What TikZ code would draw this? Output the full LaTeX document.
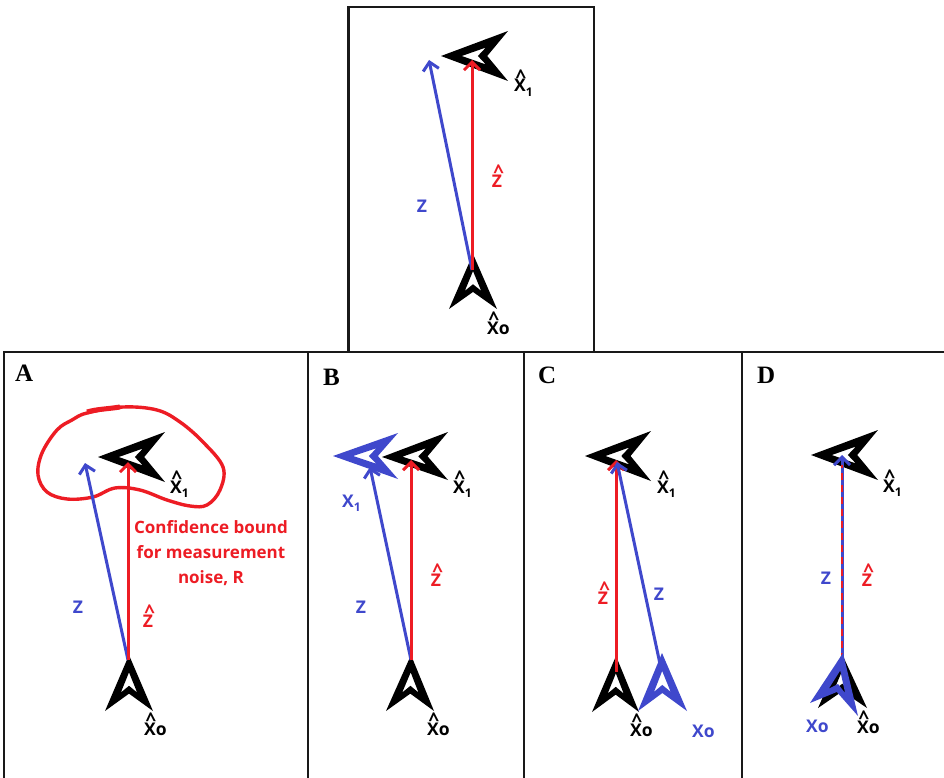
\documentclass[tikz,border=0pt]{standalone}
\usepackage{fontspec}
\setmainfont{Open Sans}
\newfontfamily\panelfont{Liberation Serif}
\usetikzlibrary{calc,arrows.meta}
\definecolor{rd}{RGB}{237,28,36}
\definecolor{bl}{RGB}{63,72,204}
\tikzset{
  panel/.style={line width=2.1pt,black!90},
  conn/.style={line width=3pt,-{Straight Barb[length=8pt,width=16pt,line width=3pt]}},
  lab/.style={font=\fontsize{17.5}{19}\selectfont\bfseries,inner sep=0pt,anchor=base},
  labw/.style={lab,anchor=base west},
  letter/.style={font=\fontsize{25}{26}\panelfont\bfseries,inner sep=0pt,anchor=base west},
  note/.style={font=\fontsize{17}{25}\selectfont\bfseries,text=rd,align=center,inner sep=0pt}
}
\newcommand\hatl[1]{\rlap{\raisebox{.5em}{\hspace{.1em}\fontsize{19}{19}\selectfont\bfseries\textasciicircum}}#1}
\newcommand\xone{\hatl{X}\raisebox{-.25em}{\fontsize{12}{13}\selectfont 1}}
\newcommand\blxone{X\raisebox{-.25em}{\fontsize{12}{13}\selectfont 1}}
\newcommand\xo{\hatl{X}o}
\newcommand\chev[5]{%
  \coordinate (#1-t) at (#3);
  \coordinate (#1-a) at (#4);
  \coordinate (#1-b) at (#5);
  \coordinate (#1-m) at ($(#1-a)!.5!(#1-b)$);
  \fill[#2,even odd rule] (#1-t) -- (#1-a) -- ($(#1-t)!.69!(#1-m)$) -- (#1-b) -- cycle
    ($(#1-t)!.31!(#1-m)$)
    -- ($(#1-t)!.67!(#1-m) + .34*(#1-a) - .34*(#1-m)$)
    -- ($(#1-t)!.55!(#1-m)$)
    -- ($(#1-t)!.67!(#1-m) + .34*(#1-b) - .34*(#1-m)$) -- cycle;
}
\begin{document}
\begin{tikzpicture}[x=1pt,y=-1pt]
\useasboundingbox (0,0) rectangle (944,778);
\fill[white] (0,0) rectangle (944,778);
% panels
\draw[panel] (348.5,7) rectangle (594,352);
\draw[panel] (4,778) -- (4,352) -- (944,352);
\draw[panel] (308,352) -- (308,778);
\draw[panel] (524,352) -- (524,778);
\draw[panel] (742,352) -- (742,778);
\node[letter] (la) at (15,381) {A};
\node[letter] (lb) at (323,385) {B};
\node[letter] (lc) at (538,383) {C};
\node[letter] (ld) at (757,383) {D};

% top panel
\chev{t1}{black}{441,56}{508,31}{508,81}
\chev{t0}{black}{473,254}{449,309}{497,309}
\coordinate (tz) at (429,60);
\coordinate (tzh) at (472,60);
\coordinate (ts) at (472,270);
\draw[conn,bl] (ts) -- (tz);
\draw[conn,rd] (ts) -- (tzh);
\node[labw] (tx1) at (514,92) {\xone};
\node[labw] (tx0) at (487,334) {\xo};
\node[lab,text=bl] (tzl) at (422,212) {Z};
\node[lab,text=rd] (tzhl) at (497,187) {\hatl{Z}};

% panel A
\draw[rd,line width=3.4pt,line join=round] plot[smooth cycle,tension=.6] coordinates {(87,413) (123,407) (157,410) (180,422) (203,442) (223,467) (220,490) (207,505) (190,506) (167,500) (140,490) (115,488) (93,497) (67,499) (47,492) (38,475) (42,453) (57,430) (72,420)};
\draw[rd,line width=5pt] (87,412) .. controls (97,409) and (108,409) .. (120,407);
\chev{a1}{black}{98,457}{165,432}{165,482}
\chev{a0}{black}{129,655}{105,711}{153,711}
\coordinate (az) at (85,463);
\coordinate (azh) at (128,462);
\coordinate (as) at (128,660);
\draw[conn,bl] (as) -- (az);
\draw[conn,rd] (as) -- (azh);
\node[labw] (ax1) at (170,493) {\xone};
\node[labw] (ax0) at (144,735) {\xo};
\node[lab,text=bl] (azl) at (78,613) {Z};
\node[lab,text=rd] (azhl) at (148,627) {\hatl{Z}};
\node[note] (anote) at (211,553) {Confidence bound\\for measurement\\noise, R};

% panel B
\chev{b1b}{bl}{333,456}{398,433}{398,479}
\chev{b1}{black}{382,457}{448,432}{448,480}
\chev{b0}{black}{411,655}{386,711}{434,711}
\coordinate (bz) at (370,467);
\coordinate (bzh) at (411,460);
\coordinate (bs) at (411,660);
\draw[conn,bl] (bs) -- (bz);
\draw[conn,rd] (bs) -- (bzh);
\node[labw] (bx1) at (453,493) {\xone};
\node[labw] (bx0) at (427,735) {\xo};
\node[labw,text=bl] (bx1b) at (342,507) {\blxone};
\node[lab,text=bl] (bzl) at (361,613) {Z};
\node[lab,text=rd] (bzhl) at (436,586) {\hatl{Z}};

% panel C
\chev{c1}{black}{585,456}{651,431}{651,481}
\chev{c0}{black}{616,656}{592,712}{639,712}
\coordinate (czh) at (616,460);
\coordinate (cz) at (617,462);
\coordinate (cr) at (616,672);
\coordinate (cb) at (660,664);
\draw[conn,rd] (cr) -- (czh);
\draw[conn,bl] (cb) -- (cz);
\chev{c0b}{bl}{662,653}{638,711}{687,711}
\node[labw] (cx1) at (657,493) {\xone};
\node[labw] (cx0) at (630,736) {\xo};
\node[labw,text=bl] (cxb) at (692,737) {Xo};
\node[lab,text=rd] (czhl) at (603,604) {\hatl{Z}};
\node[lab,text=bl] (czl) at (659,600) {Z};

% panel D
\chev{d1}{black}{811,455}{878,430}{878,480}
\chev{d0}{black}{842,654}{818,708}{867,708}
\coordinate (dz) at (842,455);
\coordinate (ds) at (842,660);
\draw[conn,bl] (ds) -- (dz);
\draw[rd,line width=2.2pt,dash pattern=on 7pt off 5pt] (ds) -- ($(dz)+(0,10)$);
\chev{d0b}{bl}{843,653}{810,703}{858,716}
\node[labw] (dx1) at (883,492) {\xone};
\node[labw] (dx0) at (857,733) {\xo};
\node[labw,text=bl] (dxb) at (806,732) {Xo};
\node[lab,text=bl] (dzl) at (826,584) {Z};
\node[lab,text=rd] (dzhl) at (867,586) {\hatl{Z}};
\end{tikzpicture}
\end{document}
